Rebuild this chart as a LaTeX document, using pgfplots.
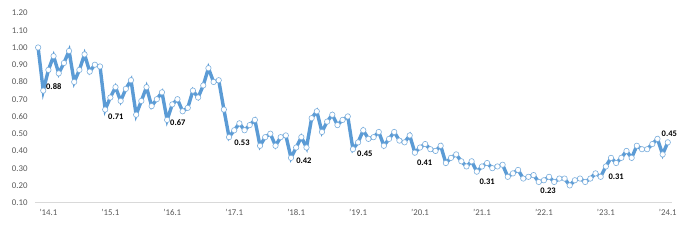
\documentclass[border=0pt]{standalone}
\usepackage{pgfplots}
\pgfplotsset{compat=1.18}
\usepackage{fontspec}
\setmainfont{Carlito}
\definecolor{lineblue}{RGB}{91,155,213}
\definecolor{ticktext}{RGB}{89,89,89}
\definecolor{baseline}{RGB}{217,217,217}
\pgfplotstableread{
i v
0 1.00
1 0.75
2 0.87
3 0.95
4 0.85
5 0.91
6 0.98
7 0.80
8 0.87
9 0.96
10 0.86
11 0.90
12 0.89
13 0.64
14 0.71
15 0.77
16 0.69
17 0.76
18 0.81
19 0.61
20 0.69
21 0.77
22 0.66
23 0.70
24 0.74
25 0.58
26 0.67
27 0.70
28 0.63
29 0.65
30 0.75
31 0.71
32 0.78
33 0.88
34 0.80
35 0.81
36 0.64
37 0.48
38 0.52
39 0.56
40 0.52
41 0.55
42 0.58
43 0.43
44 0.48
45 0.50
46 0.43
47 0.48
48 0.49
49 0.36
50 0.42
51 0.48
52 0.42
53 0.59
54 0.63
55 0.51
56 0.57
57 0.61
58 0.55
59 0.58
60 0.60
61 0.41
62 0.45
63 0.52
64 0.47
65 0.48
66 0.51
67 0.43
68 0.47
69 0.51
70 0.46
71 0.45
72 0.49
73 0.39
74 0.42
75 0.44
76 0.41
77 0.40
78 0.43
79 0.33
80 0.36
81 0.38
82 0.34
83 0.31
84 0.34
85 0.28
86 0.31
87 0.33
88 0.30
89 0.31
90 0.32
91 0.25
92 0.27
93 0.29
94 0.24
95 0.25
96 0.26
97 0.22
98 0.23
99 0.25
100 0.22
101 0.24
102 0.24
103 0.20
104 0.23
105 0.24
106 0.22
107 0.24
108 0.27
109 0.25
110 0.31
111 0.36
112 0.33
113 0.36
114 0.40
115 0.36
116 0.43
117 0.41
118 0.41
119 0.44
120 0.47
121 0.38
122 0.45
}\datatable
\begin{document}
\begin{tikzpicture}
\begin{axis}[name=ax, at={(0,0)}, anchor=south west,
  scale only axis, width=637bp, height=189.7bp,
  xmin=-0.6, xmax=122.8, ymin=0.10, ymax=1.20,
  axis x line*=bottom, axis y line*=left,
  x axis line style={draw=baseline, line width=0.8pt, -},
  y axis line style={draw=none},
  major tick length=0pt,
  ytick={0.1,0.2,0.3,0.4,0.5,0.6,0.7,0.8,0.9,1.0,1.1,1.2},
  /pgf/number format/fixed,
  /pgf/number format/fixed zerofill,
  /pgf/number format/precision=2,
  /pgf/number format/assume math mode=true,
  yticklabel style={font=\fontsize{8.8bp}{10bp}\selectfont, text=ticktext, xshift=-4bp},
  xtick={2,14,26,38,50,62,74,86,98,110,122},
  xticklabels={'14.1,'15.1,'16.1,'17.1,'18.1,'19.1,'20.1,'21.1,'22.1,'23.1,'24.1},
  xticklabel style={font=\fontsize{8.8bp}{10bp}\selectfont, text=ticktext, yshift=-3bp},
  clip=false,
]
\addplot[lineblue, line width=3.4bp, mark=*, mark size=2.7bp,
  mark options={fill=white, draw=lineblue!80, line width=0.6bp}]
  table[x=i, y=v] {\datatable};
\addplot[draw=none, mark=none, nodes near coords, point meta=explicit symbolic,
  nodes near coords align={center},
  every node near coord/.append style={font=\bfseries\fontsize{8.5bp}{10bp}\selectfont, text=black, inner sep=0pt}]
  coordinates {
  (3.04,0.771) [0.88]
  (15.06,0.597) [0.71]
  (27.07,0.562) [0.67]
  (39.5,0.446) [0.53]
  (51.5,0.344) [0.42]
  (63.3,0.381) [0.45]
  (74.9,0.329) [0.41]
  (87.0,0.223) [0.31]
  (98.8,0.170) [0.23]
  (112.0,0.248) [0.31]
  (122.3,0.497) [0.45]
  };
\end{axis}
\path ([shift={(-35bp,-49.3bp)}]ax.south west) rectangle ([shift={(8bp,13bp)}]ax.north east);
\end{tikzpicture}
\end{document}
